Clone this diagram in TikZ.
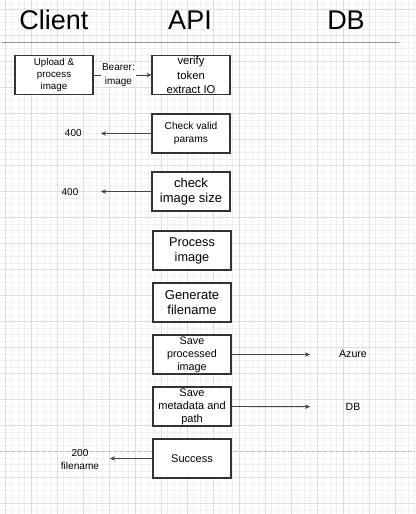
\documentclass[tikz,border=0pt]{standalone}
\usepackage{fontspec}
\setmainfont{Liberation Sans}
\usetikzlibrary{arrows.meta}
\newcommand{\fsz}[2]{\fontsize{#1}{#2}\selectfont}
\definecolor{gridminor}{HTML}{F0F0F0}
\definecolor{gridmajor}{HTML}{DCDCDC}
\definecolor{boxc}{HTML}{333333}
\definecolor{arrc}{HTML}{444444}
\tikzset{
  stepbox/.style={draw=boxc, line width=1.1pt, fill=white, minimum width=78pt, minimum height=39pt, inner sep=0pt, align=center},
  arr/.style={draw=arrc, line width=0.9pt, -{Stealth[length=5pt,width=4.5pt]}},
  lbl/.style={inner sep=1pt, align=center, text=black},
}
\begin{document}
\begin{tikzpicture}[x=1pt,y=-1pt]
\useasboundingbox (0,0) rectangle (415,514);
\fill[white] (0,0) rectangle (415,514);
% grid
\foreach \i in {0,...,64} {
  \draw[gridminor, line width=0.6pt] ({-1.5+6.5*\i},0) -- ({-1.5+6.5*\i},514);
}
\foreach \j in {0,...,80} {
  \draw[gridminor, line width=0.6pt] (0,{2.8+6.5*\j}) -- (415,{2.8+6.5*\j});
}
\foreach \i in {0,...,15} {
  \draw[gridmajor, line width=0.7pt] ({5+26*\i},0) -- ({5+26*\i},514);
}
\foreach \j in {0,...,19} {
  \draw[gridmajor, line width=0.7pt] (0,{9.3+26*\j}) -- (415,{9.3+26*\j});
}
% titles
\node[font=\fsz{27}{30}] (tclient) at (54,20) {Client};
\node[font=\fsz{27}{30}] (tapi) at (190,20) {API};
\node[font=\fsz{27}{30}] (tdb) at (346,20) {DB};
\draw[draw=gray!85, line width=1.4pt] (2,42.6) -- (399,42.6);
% dashed separator
\draw[draw=gray!55, line width=0.8pt, dash pattern=on 3pt off 3pt] (0,451.7) -- (415,451.7);
% boxes
\node[stepbox, font=\fsz{9.8}{12}] (up) at (54,75) {Upload \&\\process\\image};
\node[stepbox, font=\fsz{11.3}{14.5}] (vt) at (191,75) {verify\\token\\extract IO};
\node[stepbox, font=\fsz{10.2}{13.3}] (cv) at (191,133.5) {Check valid\\params};
\node[stepbox, font=\fsz{13}{15}] (ci) at (191,191.5) {check\\image size};
\node[stepbox, font=\fsz{12.7}{15}] (pi) at (192,250.5) {Process\\image};
\node[stepbox, font=\fsz{13}{15}] (gf) at (192,302.5) {Generate\\filename};
\node[stepbox, font=\fsz{10.8}{13}] (sp) at (192,354.5) {Save\\processed\\image};
\node[stepbox, font=\fsz{11}{13}] (sm) at (192,406.5) {Save\\metadata and\\path};
\node[stepbox, font=\fsz{11}{13}] (su) at (192,458.5) {Success};
% free labels
\node[lbl, font=\fsz{10}{12}] (r400a) at (73.3,133.3) {400};
\node[lbl, font=\fsz{10}{12}] (r400b) at (70,192) {400};
\node[lbl, font=\fsz{10.6}{12}] (azure) at (353,354) {Azure};
\node[lbl, font=\fsz{10.5}{12}] (dbl) at (353,407) {DB};
\node[lbl, font=\fsz{10.1}{13}] (r200) at (80,459.2) {200\\filename};
% connector end points
\coordinate (e400a) at (101,133.5);
\coordinate (e400b) at (101,191.5);
\coordinate (eaz) at (310,354.5);
\coordinate (edb) at (310,406.7);
\coordinate (e200) at (110,458.5);
% connectors
\draw[arr] (up) -- node[lbl, fill=white, font=\fsz{10}{13.4}, pos=0.43] (bearer) {Bearer:\\image} (vt);
\draw[arr] (cv) -- (e400a);
\draw[arr] (ci) -- (e400b);
\draw[arr] (sp.east) -- (eaz);
\draw[arr] (sm.east) -- (edb);
\draw[arr] (su) -- (e200);
\end{tikzpicture}
\end{document}
